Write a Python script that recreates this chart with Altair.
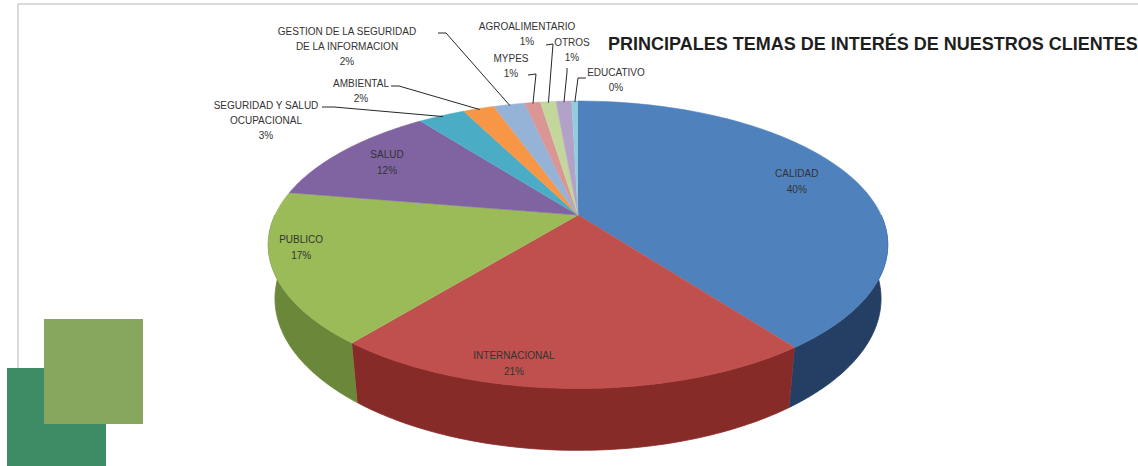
import math
import altair as alt
import pandas as pd

# ---- datos ----
temas = [
    "CALIDAD", "INTERNACIONAL", "PUBLICO", "SALUD",
    "SEGURIDAD Y SALUD OCUPACIONAL", "AMBIENTAL",
    "GESTION DE LA SEGURIDAD DE LA INFORMACION", "MYPES",
    "AGROALIMENTARIO", "OTROS", "EDUCATIVO",
]
valores = [40, 21, 17, 12, 3, 2, 2, 1, 1, 1, 0.4]
titulo = "PRINCIPALES TEMAS DE INTERÉS DE NUESTROS CLIENTES"

# ---- estilo ----
colores_sup = ["#4F81BD", "#C0504D", "#9BBB59", "#8064A2", "#4BACC6", "#F79646",
               "#95B3D7", "#D99694", "#C3D69B", "#B3A2C7", "#93CDDD"]
colores_lat = ["#243F63", "#872B29", "#6B883A", "#553F73", "#2E7A8E", "#B0601F",
               "#5F7FA6", "#A05E5C", "#8CA060", "#7D6C94", "#5E98A8"]

# texto de cada etiqueta (con saltos de línea)
etiqueta = {
    "CALIDAD": "CALIDAD",
    "INTERNACIONAL": "INTERNACIONAL",
    "PUBLICO": "PUBLICO",
    "SALUD": "SALUD",
    "SEGURIDAD Y SALUD OCUPACIONAL": "SEGURIDAD Y SALUD\nOCUPACIONAL",
    "AMBIENTAL": "AMBIENTAL",
    "GESTION DE LA SEGURIDAD DE LA INFORMACION": "GESTION DE LA SEGURIDAD\nDE LA INFORMACION",
    "MYPES": "MYPES",
    "AGROALIMENTARIO": "AGROALIMENTARIO",
    "OTROS": "OTROS",
    "EDUCATIVO": "EDUCATIVO",
}

# posición de etiquetas interiores: (radio relativo, giro en grados)
interior = {
    "CALIDAD": (0.8, 0),
    "INTERNACIONAL": (0.9, 10),
    "PUBLICO": (0.9, 6),
    "SALUD": (0.8, 0),
}
# etiquetas exteriores: centro de la primera línea y trazo de la guía (inicio, codo)
exterior = {
    "SEGURIDAD Y SALUD OCUPACIONAL": (266, 106, 322, 107, 334, 107),
    "AMBIENTAL": (361, 84, 391, 86, 399, 86),
    "GESTION DE LA SEGURIDAD DE LA INFORMACION": (347, 32, 438, 33, 446, 33),
    "MYPES": (511, 59, 528, 75, 536, 74),
    "AGROALIMENTARIO": (527, 27, 546, 45, 553, 44),
    "OTROS": (572, 43, 567, 68, 567, 72),
    "EDUCATIVO": (616, 73, 586, 78, 578, 78),
}

W, H = 1138, 466
CX, CY = 578, 215          # centro de la tarta en pantalla
K = 303                    # escala
PHI = math.radians(27)     # inclinación
DIST = 4.3                 # distancia de cámara (radios)
GROSOR = 0.2               # grosor del disco (radios)
S, C = math.sin(PHI), math.cos(PHI)
N = 121                    # puntos por arco


def proyecta(X, Y, Z):
    zv = f"(({Z})*{C:.5f} - ({Y})*{S:.5f})"
    yv = f"(({Y})*{C:.5f} + ({Z})*{S:.5f})"
    w = f"(1 + {zv}/{DIST})"
    return f"{CX} + {K}*({X})/{w}", f"{CY} - {K}*{yv}/{w}"


df = pd.DataFrame({"tema": temas, "valor": valores, "orden": range(len(temas))})
df["etiqueta"] = [etiqueta[t] for t in temas]

lay_rows = []
for t in temas:
    r, g = interior.get(t, (0, 0))
    tx, ty, lx0, ly0, lx1, ly1 = exterior.get(t, (0, 0, 0, 0, 0, 0))
    lay_rows.append(dict(tema=t, modo="dentro" if t in interior else "fuera",
                         r=r, giro=g, tx=tx, ty=ty, lx0=lx0, ly0=ly0, lx1=lx1, ly1=ly1))
layout = pd.DataFrame(lay_rows)

xs = alt.Scale(domain=[0, W], range=[0, W])
ys = alt.Scale(domain=[0, H], range=[0, H])

base = (
    alt.Chart(df)
    .transform_window(acum="sum(valor)", frame=[None, 0], sort=[alt.SortField("orden")])
    .transform_joinaggregate(total="sum(valor)")
    .transform_calculate(
        a0="2*PI*(datum.acum - datum.valor)/datum.total",
        a1="2*PI*datum.acum/datum.total",
        pct="datum.valor/datum.total",
    )
)

# caras laterales visibles (mitad frontal)
M = 80
px, py = proyecta("sin(datum.th)", "datum.yy", "cos(datum.th)")
lateral = (
    base.transform_filter("datum.a1 > PI/2 && datum.a0 < 3*PI/2")
    .transform_calculate(b0="max(datum.a0, PI/2)", b1="min(datum.a1, 3*PI/2)")
    .transform_calculate(k=f"sequence(0, {2 * M})")
    .transform_flatten(["k"])
    .transform_calculate(
        th=f"datum.k < {M} ? datum.b0 + datum.k/{M - 1}*(datum.b1 - datum.b0) : datum.b1 - (datum.k - {M})/{M - 1}*(datum.b1 - datum.b0)",
        yy=f"datum.k < {M} ? 0 : -{GROSOR}",
    )
    .transform_calculate(px=px, py=py)
    .mark_line(strokeWidth=0.8, strokeJoin="round")
    .encode(
        x=alt.X("px:Q", scale=xs, axis=None),
        y=alt.Y("py:Q", scale=ys, axis=None),
        fill=alt.Fill("tema:N", scale=alt.Scale(domain=temas, range=colores_lat), legend=None),
        stroke=alt.Stroke("tema:N", scale=alt.Scale(domain=temas, range=colores_lat), legend=None),
        order=alt.Order("k:Q"),
    )
)

# cara superior de cada porción
px, py = proyecta("datum.rr*sin(datum.th)", "0", "datum.rr*cos(datum.th)")
superior = (
    base.transform_calculate(k=f"sequence(0, {N + 1})")
    .transform_flatten(["k"])
    .transform_calculate(
        th=f"datum.k == 0 ? 0 : datum.a0 + (datum.k - 1)/{N - 1}*(datum.a1 - datum.a0)",
        rr="datum.k == 0 ? 0 : 1",
    )
    .transform_calculate(px=px, py=py)
    .mark_line(strokeWidth=0.6, strokeJoin="round")
    .encode(
        x=alt.X("px:Q", scale=xs, axis=None),
        y=alt.Y("py:Q", scale=ys, axis=None),
        fill=alt.Fill("tema:N", scale=alt.Scale(domain=temas, range=colores_sup), legend=None),
        stroke=alt.Stroke("tema:N", scale=alt.Scale(domain=temas, range=colores_sup), legend=None),
        order=alt.Order("k:Q"),
    )
)

con_layout = base.transform_lookup(
    lookup="tema",
    from_=alt.LookupData(layout, "tema", ["modo", "r", "giro", "tx", "ty", "lx0", "ly0", "lx1", "ly1"]),
).transform_calculate(
    mid="(datum.a0 + datum.a1)/2",
    texto="datum.etiqueta + '\\n' + format(datum.pct, '.0%')",
)

# etiquetas interiores (bloque de dos líneas centrado en el punto)
px, py = proyecta("datum.r*sin(datum.thm)", "0", "datum.r*cos(datum.thm)")
txt_dentro = (
    con_layout.transform_filter("datum.modo == 'dentro'")
    .transform_calculate(thm="datum.mid + datum.giro*PI/180")
    .transform_calculate(px=px, py=py)
    .transform_calculate(py0="datum.py - 8")
    .mark_text(font="Liberation Sans", fontSize=10, color="#333333", lineBreak="\n",
               lineHeight=16, align="center", baseline="middle")
    .encode(x=alt.X("px:Q", scale=xs, axis=None), y=alt.Y("py0:Q", scale=ys, axis=None), text="texto:N")
)

# etiquetas exteriores
txt_fuera = (
    con_layout.transform_filter("datum.modo == 'fuera'")
    .mark_text(font="Liberation Sans", fontSize=10, color="#333333", lineBreak="\n",
               lineHeight=15, align="center", baseline="middle")
    .encode(x=alt.X("tx:Q", scale=xs, axis=None), y=alt.Y("ty:Q", scale=ys, axis=None), text="texto:N")
)

# líneas guía hasta el borde de cada porción pequeña
ex, ey = proyecta("0.99*sin(datum.mid)", "0", "0.99*cos(datum.mid)")
guias = (
    con_layout.transform_filter("datum.modo == 'fuera'")
    .transform_calculate(ex=ex, ey=ey)
    .transform_calculate(k="sequence(0, 3)")
    .transform_flatten(["k"])
    .transform_calculate(
        gx="datum.k == 0 ? datum.lx0 : datum.k == 1 ? datum.lx1 : datum.ex",
        gy="datum.k == 0 ? datum.ly0 : datum.k == 1 ? datum.ly1 : datum.ey",
    )
    .mark_line(color="#262626", strokeWidth=1)
    .encode(
        x=alt.X("gx:Q", scale=xs, axis=None),
        y=alt.Y("gy:Q", scale=ys, axis=None),
        detail="tema:N",
        order=alt.Order("k:Q"),
    )
)

titulo_txt = (
    alt.Chart(pd.DataFrame({"t": [titulo]}))
    .mark_text(font="Liberation Sans", fontSize=18, fontWeight="bold", color="#1E1E1E",
               align="left", baseline="middle")
    .encode(x=alt.value(608), y=alt.value(45), text="t:N")
)

marco = alt.Chart(pd.DataFrame({"a": [0]})).mark_rect(
    fill="transparent", stroke="#D0D0D0", strokeWidth=1.5
).encode(x=alt.value(18), x2=alt.value(1150), y=alt.value(4), y2=alt.value(480))

cuadro_osc = alt.Chart(pd.DataFrame({"a": [0]})).mark_rect(fill="#3D8C65").encode(
    x=alt.value(7), x2=alt.value(106), y=alt.value(368), y2=alt.value(470))
cuadro_cla = alt.Chart(pd.DataFrame({"a": [0]})).mark_rect(fill="#87A65E").encode(
    x=alt.value(44), x2=alt.value(143), y=alt.value(319), y2=alt.value(424))

chart = (
    alt.layer(marco, lateral, superior, guias, txt_dentro, txt_fuera, titulo_txt, cuadro_osc, cuadro_cla)
    .resolve_scale(fill="independent", stroke="independent")
    .properties(width=W, height=H, padding=0, autosize="none", background="white")
    .configure_view(stroke=None)
)

chart.save("out.html", embed_options={"renderer": "svg", "actions": False})
